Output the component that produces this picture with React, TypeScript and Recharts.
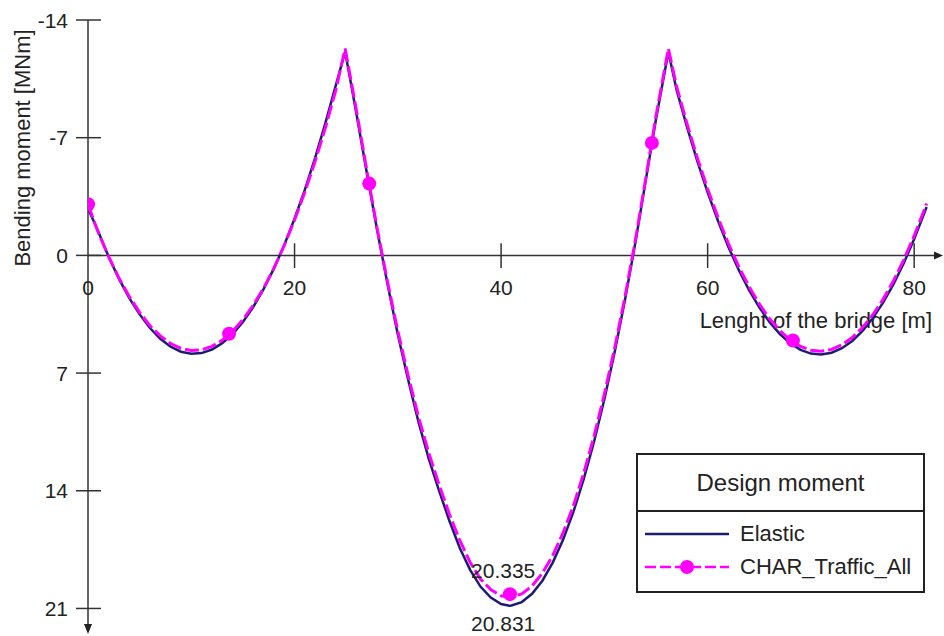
import {
  ComposedChart,
  Line,
  Scatter,
  XAxis,
  YAxis,
  ReferenceLine,
  ReferenceDot,
  Legend,
} from 'recharts';

// bridge stations [m]
const positions = [
  0, 1, 2, 3, 4, 5, 6, 7, 8, 9, 10, 11, 12, 13, 14, 15, 16, 17, 18, 19, 20, 21, 22, 23, 24, 24.9,
  25.5, 26, 27, 28, 29, 30, 31, 32, 33, 34, 35, 36, 37, 38, 39, 40, 40.8, 41, 42, 43, 44, 45, 46,
  47, 48, 49, 50, 51, 52, 53, 54, 55, 55.6, 56.2, 57, 58, 59, 60, 61, 62, 63, 64, 65, 66, 67, 68,
  69, 70, 71, 72, 73, 74, 75, 76, 77, 78, 79, 80, 81, 81.2,
];

// bending moment [MNm], sagging positive
const elastic = [
  -2.8, -1.4, 0.08, 1.4, 2.54, 3.51, 4.32, 4.96, 5.43, 5.73, 5.85, 5.81, 5.6, 5.22, 4.68, 3.96,
  3.07, 2.01, 0.79, -0.61, -2.18, -3.91, -5.81, -7.89, -10.13, -12.1,
  -10.1, -8.4, -4.9, -1.5, 1.7, 4.7, 7.4, 9.9, 12.1, 14.0, 15.8, 17.4, 18.7, 19.7, 20.35, 20.74,
  20.831, 20.82, 20.62, 20.13, 19.35, 18.27, 16.91, 15.26, 13.31, 11.08, 8.56, 5.74, 2.64, -0.75,
  -4.43, -8.1, -10.1, -12.1, -9.83, -7.64, -5.61, -3.75, -2.06, -0.52, 0.85, 2.05, 3.09, 3.97,
  4.68, 5.23, 5.62, 5.84, 5.9, 5.79, 5.52, 5.09, 4.49, 3.73, 2.8, 1.71, 0.45, -0.97, -2.54, -2.88,
];

const charTraffic = [
  -3.04, -1.35, 0.08, 1.35, 2.45, 3.39, 4.18, 4.79, 5.24, 5.53, 5.66, 5.62, 5.41, 5.05, 4.52, 3.82,
  2.97, 1.95, 0.76, -0.59, -2.1, -3.77, -5.61, -7.62, -9.85, -12.3,
  -10.3, -8.6, -5.05, -1.6, 1.55, 4.5, 7.15, 9.6, 11.75, 13.65, 15.4, 16.95, 18.25, 19.25, 19.88,
  20.25, 20.335, 20.33, 20.13, 19.66, 18.9, 17.85, 16.5, 14.9, 12.95, 10.75, 8.25, 5.5, 2.45, -0.9,
  -4.55, -8.3, -10.3, -12.3, -10.03, -7.84, -5.81, -3.95, -2.26, -0.72, 0.65, 1.85, 2.89, 3.77,
  4.48, 5.03, 5.42, 5.64, 5.7, 5.59, 5.32, 4.89, 4.29, 3.53, 2.6, 1.51, 0.25, -1.17, -2.74, -3.08,
];

const markerX = [0, 13.66, 27.23, 40.86, 54.6, 68.26];
const markerV = [-3.04, 4.66, -4.27, 20.15, -6.69, 5.06];

const yTicks = [-14, -7, 0, 7, 14, 21];
const xTicks = [0, 20, 40, 60, 80];

const seriesNames = ['Elastic', 'CHAR_Traffic_All'];
const legendTitle = 'Design moment';
const peakLabels = ['20.335', '20.831'];

const FONT = '"Liberation Sans", Arial, sans-serif';
const NAVY = '#1c1c74';
const MAGENTA = '#ff00ff';
const AXIS = '#333';
const TEXT = '#222';

const elasticData = positions.map((x, i) => ({ x, v: elastic[i] }));
const trafficData = positions.map((x, i) => ({ x, v: charTraffic[i] }));
const markerData = markerX.map((x, i) => ({ x, v: markerV[i] }));

function YTick({ x, y, payload }: any) {
  return (
    <g>
      <line x1={x - 12} x2={x + 13} y1={y} y2={y} stroke={AXIS} strokeWidth={1.5} />
      <text x={x - 20} y={y} dy="0.36em" textAnchor="end" fill={TEXT} fontSize={21} fontFamily={FONT}>
        {payload.value}
      </text>
    </g>
  );
}

function LegendBox() {
  return (
    <div
      style={{
        width: 289,
        height: 140,
        boxSizing: 'border-box',
        border: `2px solid ${TEXT}`,
        background: '#fff',
        fontFamily: FONT,
        color: TEXT,
        fontSize: 22,
      }}
    >
      <div
        style={{
          height: 55,
          borderBottom: `2px solid ${TEXT}`,
          display: 'flex',
          alignItems: 'center',
          justifyContent: 'center',
          fontSize: 24,
        }}
      >
        {legendTitle}
      </div>
      <div style={{ display: 'flex', alignItems: 'center', height: 32, marginTop: 6 }}>
        <svg width={98} height={20} style={{ marginLeft: 4 }}>
          <line x1={3} x2={87} y1={10} y2={10} stroke={NAVY} strokeWidth={2.5} />
        </svg>
        <span>{seriesNames[0]}</span>
      </div>
      <div style={{ display: 'flex', alignItems: 'center', height: 34 }}>
        <svg width={98} height={20} style={{ marginLeft: 4 }}>
          <line x1={3} x2={87} y1={10} y2={10} stroke={MAGENTA} strokeWidth={2.5} strokeDasharray="11 4" />
          <circle cx={45} cy={10} r={7} fill={MAGENTA} />
        </svg>
        <span>{seriesNames[1]}</span>
      </div>
    </div>
  );
}

export default function App() {
  return (
    <div style={{ position: 'relative', width: 944, height: 636, background: '#fff', fontFamily: FONT }}>
      <style>{'body{margin:0}'}</style>
      <ComposedChart width={944} height={636} margin={{ top: 20, right: 4, bottom: 4, left: 8 }}>
        <XAxis dataKey="x" type="number" domain={[0, 82.5]} hide allowDataOverflow />
        <YAxis
          dataKey="v"
          type="number"
          reversed
          domain={[-14, 22.4]}
          ticks={yTicks}
          width={80}
          tickSize={0}
          tickMargin={0}
          tickLine={false}
          axisLine={{ stroke: AXIS, strokeWidth: 1.5 }}
          tick={<YTick />}
          allowDataOverflow
        />
        <ReferenceLine y={0} stroke={AXIS} strokeWidth={1.5} />
        {xTicks.slice(1).map((t) => (
          <ReferenceLine
            key={`tl${t}`}
            segment={[
              { x: t, y: -0.72 },
              { x: t, y: 0.75 },
            ]}
            stroke={AXIS}
            strokeWidth={1.5}
          />
        ))}
        {xTicks.map((t) => (
          <ReferenceDot
            key={`tx${t}`}
            x={t}
            y={0}
            r={0}
            fill="none"
            stroke="none"
            label={{ value: String(t), position: 'bottom', offset: 25, fill: TEXT, fontSize: 21, fontFamily: FONT }}
          />
        ))}
        <ReferenceDot
          x={82.5}
          y={0}
          r={4}
          shape={(p: any) => (
            <polygon
              points={`${p.cx - 6},${p.cy - 4} ${p.cx - 6},${p.cy + 4} ${p.cx + 3},${p.cy}`}
              fill={TEXT}
            />
          )}
        />
        <ReferenceDot
          x={0}
          y={22.4}
          r={4}
          shape={(p: any) => (
            <polygon
              points={`${p.cx - 4},${p.cy - 8} ${p.cx + 4},${p.cy - 8} ${p.cx},${p.cy + 2}`}
              fill={TEXT}
            />
          )}
        />
        <Line
          data={elasticData}
          dataKey="v"
          type="linear"
          stroke={NAVY}
          strokeWidth={2.5}
          dot={false}
          isAnimationActive={false}
        />
        <Line
          data={trafficData}
          dataKey="v"
          type="linear"
          stroke={MAGENTA}
          strokeWidth={3}
          strokeDasharray="14 4"
          dot={false}
          isAnimationActive={false}
        />
        <Scatter
          data={markerData}
          dataKey="v"
          fill={MAGENTA}
          isAnimationActive={false}
          shape={(p: any) => <circle cx={p.cx} cy={p.cy} r={7} fill={MAGENTA} />}
        />
        <ReferenceDot
          x={40.2}
          y={20.335}
          r={0}
          fill="none"
          stroke="none"
          label={{ value: peakLabels[0], position: 'top', offset: 19, fill: TEXT, fontSize: 21, fontFamily: FONT }}
        />
        <ReferenceDot
          x={40.2}
          y={20.831}
          r={0}
          fill="none"
          stroke="none"
          label={{ value: peakLabels[1], position: 'bottom', offset: 10, fill: TEXT, fontSize: 21, fontFamily: FONT }}
        />
        <text
          x={22}
          y={148}
          transform="rotate(-90 22 148)"
          textAnchor="middle"
          dominantBaseline="central"
          fill={TEXT}
          fontSize={22}
          fontFamily={FONT}
        >
          Bending moment [MNm]
        </text>
        <text x={932} y={320} textAnchor="end" dominantBaseline="central" fill={TEXT} fontSize={22} fontFamily={FONT}>
          Lenght of the bridge [m]
        </text>
        <Legend
          layout="horizontal"
          verticalAlign="middle"
          align="center"
          content={() => <LegendBox />}
          wrapperStyle={{ position: 'absolute', left: 636, top: 453, width: 289, height: 140 }}
        />
      </ComposedChart>
    </div>
  );
}
